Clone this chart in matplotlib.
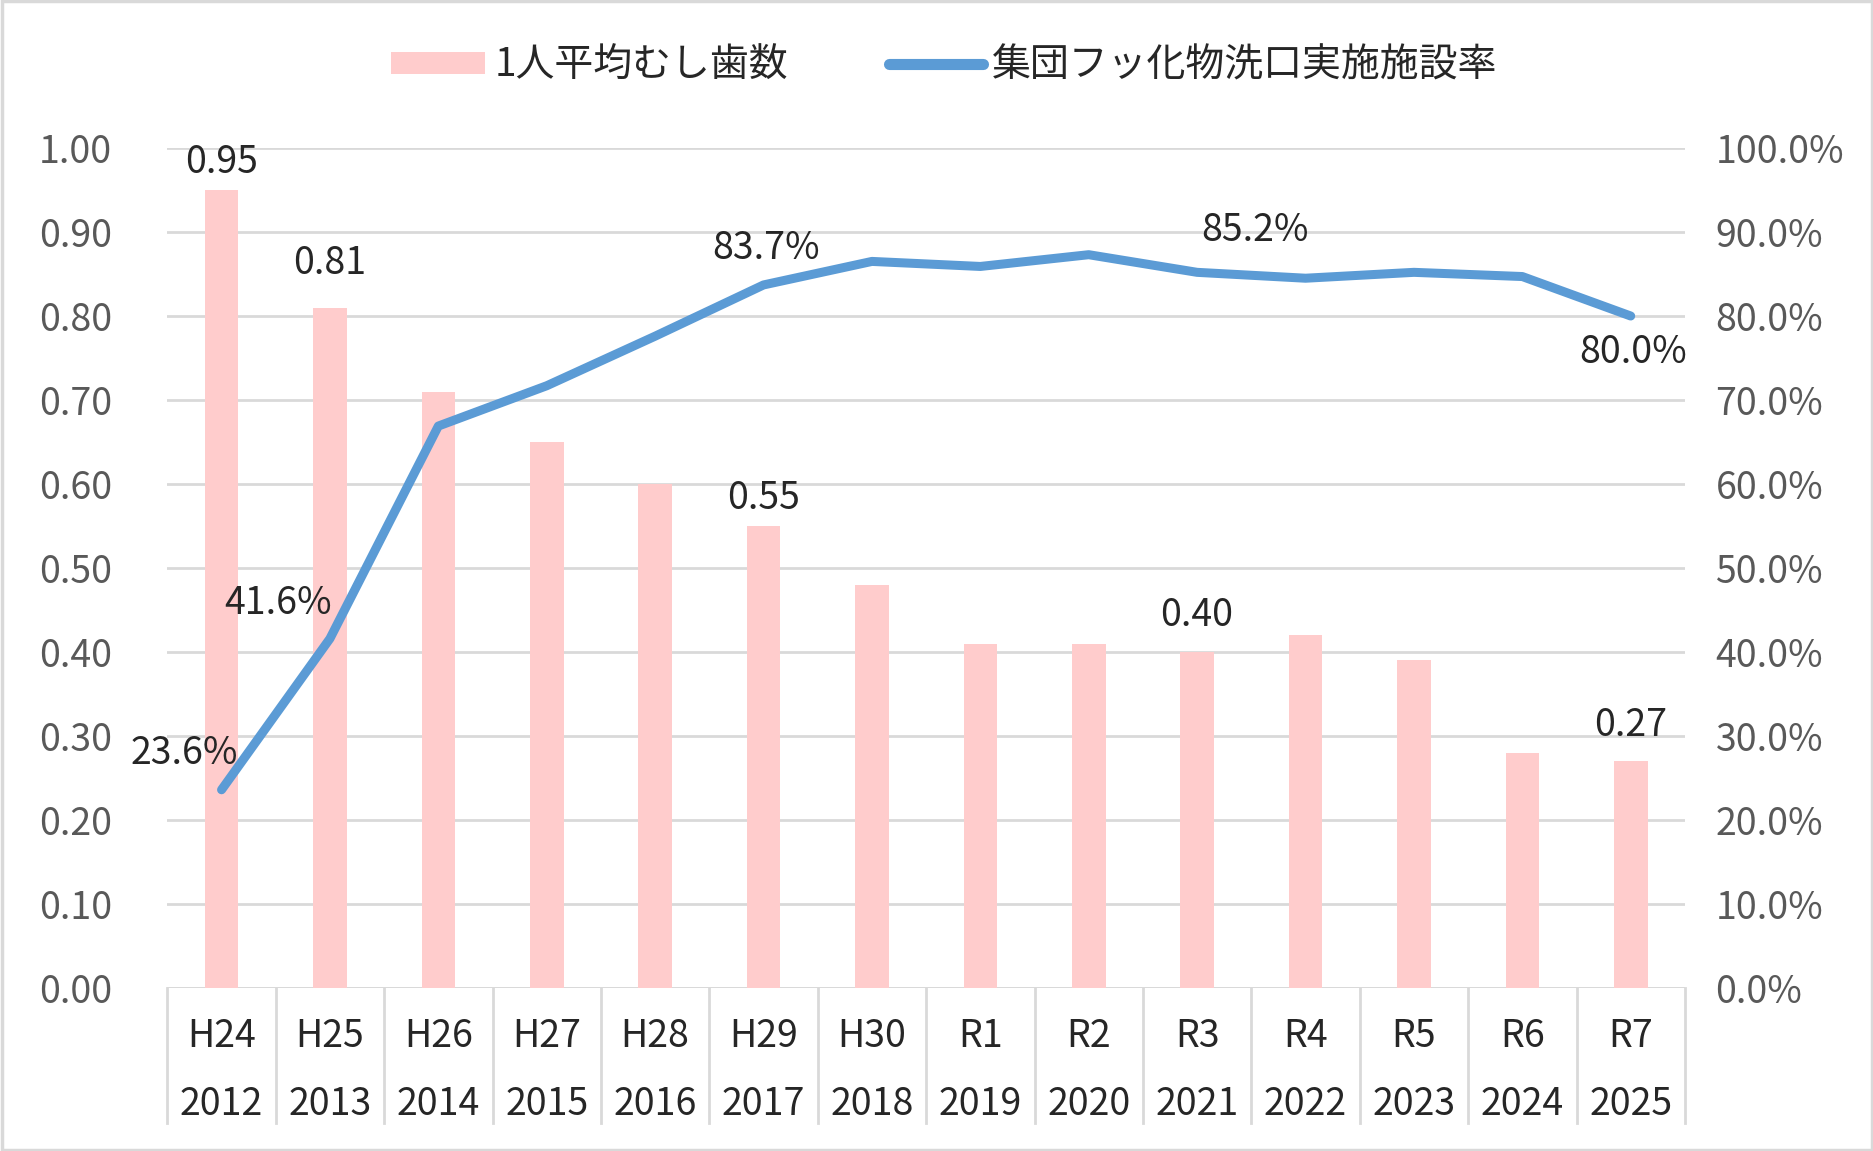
import matplotlib.pyplot as plt
from matplotlib.patches import Patch, Rectangle
from matplotlib.lines import Line2D
from matplotlib import ticker

plt.rcParams['font.family'] = ['Noto Sans CJK JP', 'DejaVu Sans']

eras = ['H24', 'H25', 'H26', 'H27', 'H28', 'H29', 'H30',
        'R1', 'R2', 'R3', 'R4', 'R5', 'R6', 'R7']
years = ['2012', '2013', '2014', '2015', '2016', '2017', '2018',
         '2019', '2020', '2021', '2022', '2023', '2024', '2025']
caries = [0.95, 0.81, 0.71, 0.65, 0.60, 0.55, 0.48,
          0.41, 0.41, 0.40, 0.42, 0.39, 0.28, 0.27]
fluoride_rate = [23.6, 41.6, 66.9, 71.7, 77.6, 83.7, 86.5,
                 85.9, 87.3, 85.2, 84.5, 85.2, 84.7, 80.0]
bar_name = '1人平均むし歯数'
line_name = '集団フッ化物洗口実施施設率'

# which points carry a data label, and where it sits (offset in points)
bar_labels = {0: 20, 1: 32, 5: 20, 9: 26, 13: 26}
line_labels = {0: (-27, 26), 1: (-37, 25), 5: (2, 26), 9: (42, 30), 13: (2, -26)}

pink = '#FFCCCC'
blue = '#5B9BD5'
grid_c = '#D9D9D9'
fs = 27

fig = plt.figure(figsize=(18.74, 11.51), dpi=100)
ax = fig.add_axes([0.0893, 0.1416, 0.8098, 0.7298])
ax2 = ax.twinx()

x = list(range(len(eras)))
ax.bar(x, caries, width=0.31, color=pink, zorder=2)
ax.set_xlim(-0.5, len(eras) - 0.5)
ax.set_ylim(0, 1.0)
ax.set_yticks([i / 10 for i in range(11)])
ax.yaxis.set_major_formatter(ticker.FuncFormatter(lambda v, p: f'{v:.2f}'))
ax.yaxis.grid(True, color=grid_c, lw=2)
ax.set_axisbelow(True)
ax.set_xticks([])
ax.tick_params(axis='y', length=0, pad=40, labelsize=fs, labelcolor='#595959')

ax2.plot(x, [v / 100 for v in fluoride_rate], color=blue, lw=6.5,
         solid_joinstyle='round', solid_capstyle='round', zorder=3)
ax2.set_ylim(0, 1.0)
ax2.set_yticks([i / 10 for i in range(11)])
ax2.yaxis.set_major_formatter(ticker.FuncFormatter(lambda v, p: f'{v * 100:.1f}%'))
ax2.tick_params(axis='y', length=0, pad=22, labelsize=fs, labelcolor='#595959')

for a in (ax, ax2):
    for side in ('top', 'left', 'right', 'bottom'):
        a.spines[side].set_visible(False)
ax.axhline(0, color=grid_c, lw=2, zorder=1)

# category table below the axis
xt = ax.get_xaxis_transform()
for b in range(len(eras) + 1):
    ax.plot([b - 0.5, b - 0.5], [0, -0.161], transform=xt, color=grid_c,
            lw=2, clip_on=False)
for i in x:
    ax.text(i, -0.058, eras[i], transform=xt, ha='center', va='center',
            fontsize=fs, color='#262626')
    ax.text(i, -0.139, years[i], transform=xt, ha='center', va='center',
            fontsize=fs, color='#262626')

for i, dy in bar_labels.items():
    ax.annotate(f'{caries[i]:.2f}', (i, caries[i]), xytext=(0, dy),
                textcoords='offset points', ha='center', va='center',
                fontsize=fs, color='#262626', zorder=5)
for i, (dx, dy) in line_labels.items():
    ax2.annotate(f'{fluoride_rate[i]:.1f}%', (i, fluoride_rate[i] / 100),
                 xytext=(dx, dy), textcoords='offset points', ha='center',
                 va='center', fontsize=fs, color='#262626', zorder=5)

handles = [Patch(facecolor=pink, edgecolor='none'),
           Line2D([0], [0], color=blue, lw=8, solid_capstyle='round')]
fig.legend(handles, [bar_name, line_name], loc='center',
           bbox_to_anchor=(0.504, 0.943), ncol=2, frameon=False,
           fontsize=28, handlelength=2.4, handleheight=0.5,
           columnspacing=2.6, handletextpad=0.25, labelcolor='#262626')

fig.patches.append(Rectangle((0.001, 0.001), 0.998, 0.998, transform=fig.transFigure,
                             fill=False, edgecolor=grid_c, lw=2.5))

fig.savefig('out.png', dpi=100, facecolor='white')
